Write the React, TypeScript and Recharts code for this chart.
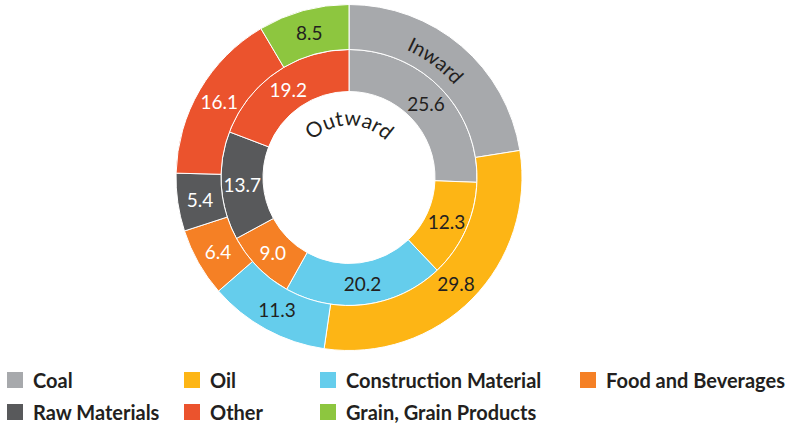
import React from 'react';
import { PieChart, Pie, Cell, Legend } from 'recharts';

const categories = [
  'Coal',
  'Oil',
  'Construction Material',
  'Food and Beverages',
  'Raw Materials',
  'Other',
  'Grain, Grain Products',
];
const inwardValues = [22.5, 29.8, 11.3, 6.4, 5.4, 16.1, 8.5];
const outwardValues = [25.6, 12.3, 20.2, 9.0, 13.7, 19.2];
const colors = ['#A7A9AC', '#FDB515', '#65CDEC', '#F58025', '#58595B', '#EB532D', '#8DC63F'];
const labelColors = ['#231F20', '#231F20', '#231F20', '#FFFFFF', '#FFFFFF', '#FFFFFF', '#231F20'];
const legendRows = [
  ['Coal', 'Oil', 'Construction Material', 'Food and Beverages'],
  ['Raw Materials', 'Other', 'Grain, Grain Products'],
];

const inwardData = inwardValues.map((v, i) => ({ name: categories[i], value: v }));
const outwardData = outwardValues.map((v, i) => ({ name: categories[i], value: v }));

const FONT = 'Lato, "Open Sans", sans-serif';
const TEXT = '#231F20';
const RADIAN = Math.PI / 180;

// clockwise arc, angles measured from 12 o'clock
function arcPath(cx: number, cy: number, r: number, a1: number, a2: number) {
  const x1 = cx + r * Math.sin(a1 * RADIAN);
  const y1 = cy - r * Math.cos(a1 * RADIAN);
  const x2 = cx + r * Math.sin(a2 * RADIAN);
  const y2 = cy - r * Math.cos(a2 * RADIAN);
  return `M${x1},${y1} A${r},${r} 0 0 1 ${x2},${y2}`;
}

function valueLabel(ring: 'in' | 'out') {
  return (props: any) => {
    const { cx, cy, midAngle, innerRadius, outerRadius, index, value } = props;
    if (ring === 'in' && index === 0) {
      return (
        <g key="inward-title">
          <path id="inwardArc" d={arcPath(cx, cy, 140, -2, 75)} fill="none" />
          <text fill={TEXT} fontSize={20} fontFamily={FONT}>
            <textPath href="#inwardArc" startOffset="50%" textAnchor="middle">
              Inward
            </textPath>
          </text>
        </g>
      );
    }
    const r = (innerRadius + outerRadius) / 2;
    const x = cx + r * Math.cos(-midAngle * RADIAN);
    const y = cy + r * Math.sin(-midAngle * RADIAN);
    const label = (
      <text
        key={`${ring}-${index}`}
        x={x}
        y={y}
        fill={labelColors[index]}
        fontSize={19}
        fontFamily={FONT}
        textAnchor="middle"
        dominantBaseline="central"
      >
        {Number(value).toFixed(1)}
      </text>
    );
    if (ring === 'out' && index === 0) {
      return (
        <g key="outward-group">
          {label}
          <path id="outwardArc" d={arcPath(cx, cy, 52, -52, 52)} fill="none" />
          <text fill={TEXT} fontSize={21} fontFamily={FONT}>
            <textPath href="#outwardArc" startOffset="50%" textAnchor="middle">
              Outward
            </textPath>
          </text>
        </g>
      );
    }
    return label;
  };
}

// legend row top edges; each row box is 24px tall
const legendX = [7, 184, 320, 580];
const legendY = [368, 400];

function LegendContent() {
  return (
    <div style={{ position: 'relative', width: 789, height: 64 }}>
      {legendRows.map((row, ri) =>
        row.map((name, ci) => {
          const idx = categories.indexOf(name);
          return (
            <div
              key={name}
              style={{
                position: 'absolute',
                left: legendX[ci],
                top: legendY[ri] - 360,
                height: 24,
                display: 'flex',
                alignItems: 'center',
                whiteSpace: 'nowrap',
              }}
            >
              <span style={{ width: 16, height: 16, background: colors[idx], display: 'inline-block' }} />
              <span
                style={{
                  marginLeft: 10,
                  fontFamily: FONT,
                  fontWeight: 700,
                  fontSize: 20,
                  color: TEXT,
                  lineHeight: '24px',
                }}
              >
                {name}
              </span>
            </div>
          );
        })
      )}
    </div>
  );
}

export default function App() {
  return (
    <div style={{ width: 789, height: 424, background: '#fff' }}>
      <style>{'body{margin:0}'}</style>
      <PieChart width={789} height={424} margin={{ top: 0, right: 0, bottom: 0, left: 0 }}>
        <Pie
          data={outwardData}
          dataKey="value"
          cx={349}
          cy={177.5}
          innerRadius={86}
          outerRadius={128}
          startAngle={90}
          endAngle={-270}
          stroke="#fff"
          strokeWidth={1}
          label={valueLabel('out')}
          labelLine={false}
          isAnimationActive={false}
        >
          {outwardData.map((d, i) => (
            <Cell key={d.name} fill={colors[i]} />
          ))}
        </Pie>
        <Pie
          data={inwardData}
          dataKey="value"
          cx={349}
          cy={177.5}
          innerRadius={128}
          outerRadius={173}
          startAngle={90}
          endAngle={-270}
          stroke="#fff"
          strokeWidth={1}
          label={valueLabel('in')}
          labelLine={false}
          isAnimationActive={false}
        >
          {inwardData.map((d, i) => (
            <Cell key={d.name} fill={colors[i]} />
          ))}
        </Pie>
        <Legend
          content={<LegendContent />}
          wrapperStyle={{ position: 'absolute', left: 0, top: 360, width: 789, height: 64 }}
        />
      </PieChart>
    </div>
  );
}
